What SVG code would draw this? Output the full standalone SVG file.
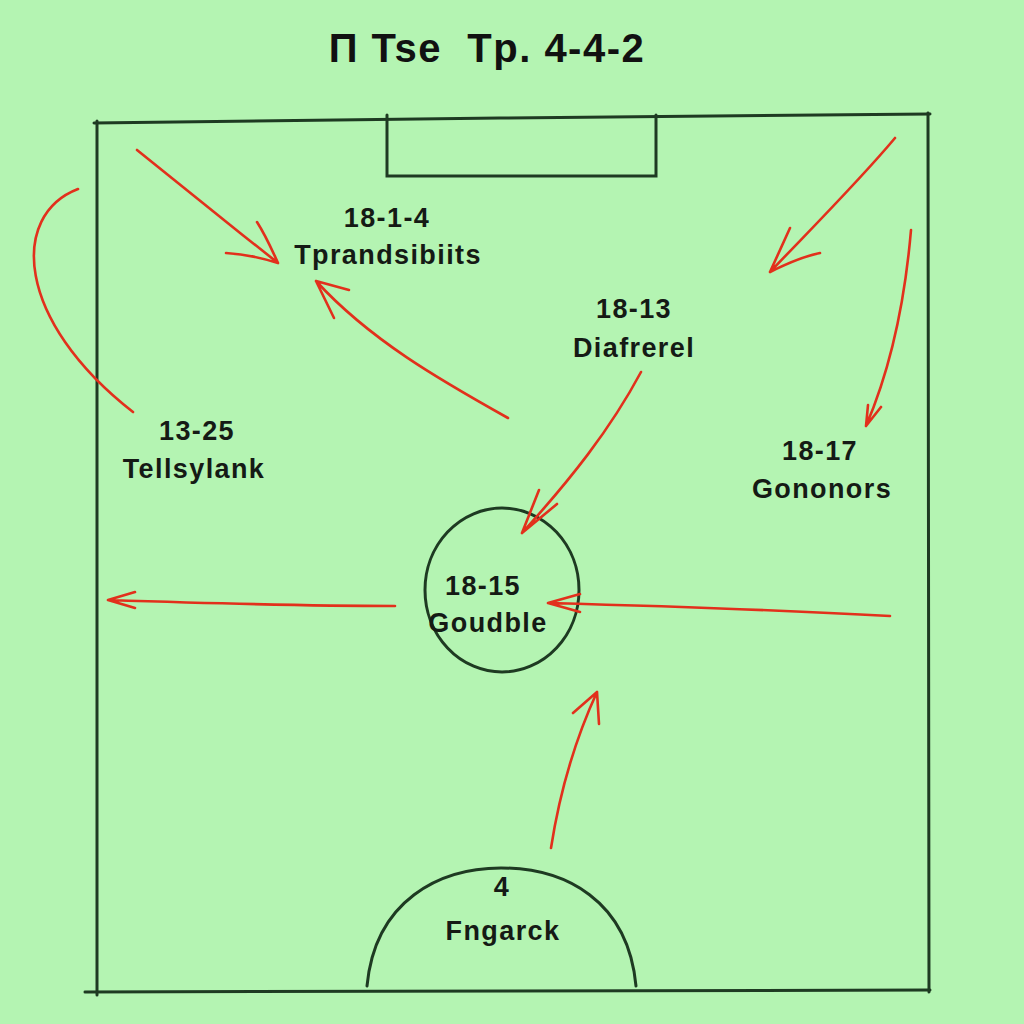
<svg xmlns="http://www.w3.org/2000/svg" width="1024" height="1024" viewBox="0 0 1024 1024">
<style>
.line{fill:none;stroke:#1e3a22;stroke-width:3;stroke-linecap:round}
.arr{fill:none;stroke:#e2301c;stroke-width:2.6;stroke-linecap:round;stroke-linejoin:round}
.lbl{font-family:"Liberation Sans",Arial,sans-serif;font-weight:bold;font-size:27px;letter-spacing:1.4px;fill:#151a15;text-anchor:middle}
.title{font-family:"Liberation Sans",Arial,sans-serif;font-weight:bold;font-size:40px;letter-spacing:1.5px;fill:#111;text-anchor:middle}
</style>
<rect width="1024" height="1024" fill="#b4f4b2"/>
<g id="field">
<path class="line" d="M94 123 L500 118 L930 114"/>
<path class="line" d="M97 121 L97 995"/>
<path class="line" d="M928 113 L929 992"/>
<path class="line" d="M85 992 L930 990"/>
<path class="line" d="M387 115 L387 176 L656 176 L656 115"/>
</g>
<text class="title" x="487" y="62" xml:space="preserve">П Tse  Tp. 4-4-2</text>
<g id="node-1814"><text class="lbl" x="387" y="227">18-1-4</text><text class="lbl" x="388" y="264">Tprandsibiits</text></g>
<g id="node-1813"><text class="lbl" x="634" y="318">18-13</text><text class="lbl" x="634" y="357">Diafrerel</text></g>
<g id="node-1325"><text class="lbl" x="197" y="440">13-25</text><text class="lbl" x="194" y="478">Tellsylank</text></g>
<g id="node-1817"><text class="lbl" x="820" y="460">18-17</text><text class="lbl" x="822" y="498">Gononors</text></g>
<g id="node-1815"><ellipse class="line" cx="502" cy="590" rx="77" ry="82"/><text class="lbl" x="483" y="595">18-15</text><text class="lbl" x="488" y="632">Goudble</text></g>
<g id="node-4"><path class="line" d="M367 986 C375 900 440 868 501 868 C565 868 628 900 636 986"/><text class="lbl" x="502" y="896">4</text><text class="lbl" x="503" y="940">Fngarck</text></g>
<g id="connectors">
<path class="arr" d="M137 150 C180 185 230 225 278 263 M226 253 C245 254 262 258 278 263 M257 222 C266 236 272 250 278 263"/>
<path class="arr" d="M508 418 C440 380 370 340 316 281 M316 281 L349 290 M316 281 L334 318"/>
<path class="arr" d="M78 189 C10 215 15 320 133 412"/>
<path class="arr" d="M895 138 C860 180 810 230 770 272 M770 272 L790 228 M770 272 C790 262 805 256 820 253"/>
<path class="arr" d="M911 230 C905 300 890 370 866 426 M866 426 L868 405 M866 426 L881 407"/>
<path class="arr" d="M641 372 C610 430 570 480 522 533 M522 533 L539 490 M522 533 L557 504"/>
<path class="arr" d="M395 606 C300 606 200 603 108 600 M108 600 L135 592 M108 600 L135 608"/>
<path class="arr" d="M890 616 C780 610 660 606 548 603 M548 603 L580 594 M548 603 L580 612"/>
<path class="arr" d="M551 848 C560 790 575 740 597 692 M597 692 L573 713 M597 692 L599 724"/>
</g>
</svg>
